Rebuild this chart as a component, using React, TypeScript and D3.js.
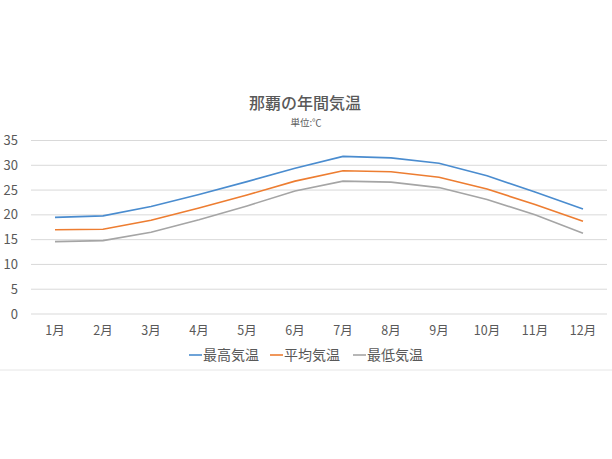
import React from "react";
import * as d3 from "d3";

const months = ["1月", "2月", "3月", "4月", "5月", "6月", "7月", "8月", "9月", "10月", "11月", "12月"];
const highTemps = [19.5, 19.8, 21.7, 24.1, 26.7, 29.4, 31.8, 31.5, 30.4, 27.9, 24.6, 21.2];
const avgTemps = [17.0, 17.1, 18.9, 21.4, 24.0, 26.8, 28.9, 28.7, 27.6, 25.2, 22.1, 18.7];
const lowTemps = [14.6, 14.8, 16.5, 19.0, 21.8, 24.8, 26.8, 26.6, 25.5, 23.1, 20.0, 16.3];
const yTicks = [0, 5, 10, 15, 20, 25, 30, 35];
const seriesNames = ["最高気温", "平均気温", "最低気温"];
const seriesColors = ["#4a8ccf", "#ed7d31", "#a5a5a5"];

const W = 612;
const H = 459;
const FONT = "'Noto Sans CJK JP', 'Noto Sans', sans-serif";

export default function App() {
  const x = d3.scaleBand<string>().domain(months).range([31, 607]);
  const y = d3.scaleLinear().domain([0, 35]).range([314, 140.5]);
  const line = d3
    .line<number>()
    .x((_, i) => (x(months[i]) ?? 0) + x.bandwidth() / 2)
    .y((d) => y(d));
  const series = [highTemps, avgTemps, lowTemps];
  const legendX = [189, 270, 353];

  return (
    <svg
      width={W}
      height={H}
      style={{ position: "absolute", left: 0, top: 0, background: "#fff" }}
      fontFamily={FONT}
    >
      <rect x={0} y={0} width={W} height={H} fill="#fff" />
      <text x={305} y={109} textAnchor="middle" fontSize={16} fontWeight={500} fill="#595959">
        那覇の年間気温
      </text>
      <text x={306} y={126} textAnchor="middle" fontSize={9.5} fill="#595959">
        単位:℃
      </text>
      {yTicks.map((t) => (
        <g key={t}>
          <line x1={31} x2={607} y1={y(t)} y2={y(t)} stroke="#d9d9d9" strokeWidth={1} />
          <text x={18} y={y(t)} dy="0.35em" textAnchor="end" fontSize={13} fill="#595959">
            {t}
          </text>
        </g>
      ))}
      {months.map((m) => (
        <text
          key={m}
          x={(x(m) ?? 0) + x.bandwidth() / 2}
          y={331}
          dy="0.35em"
          textAnchor="middle"
          fontSize={12.5}
          fill="#595959"
        >
          {m}
        </text>
      ))}
      {series.map((s, i) => (
        <path key={i} d={line(s) ?? ""} fill="none" stroke={seriesColors[i]} strokeWidth={1.6} />
      ))}
      {seriesNames.map((n, i) => (
        <g key={n}>
          <line x1={legendX[i]} x2={legendX[i] + 13} y1={355} y2={355} stroke={seriesColors[i]} strokeWidth={1.6} />
          <text x={legendX[i] + 14} y={355} dy="0.35em" fontSize={14} fill="#595959">
            {n}
          </text>
        </g>
      ))}
      <line x1={0} x2={W} y1={370} y2={370} stroke="#e6e6e6" strokeWidth={1} />
    </svg>
  );
}
